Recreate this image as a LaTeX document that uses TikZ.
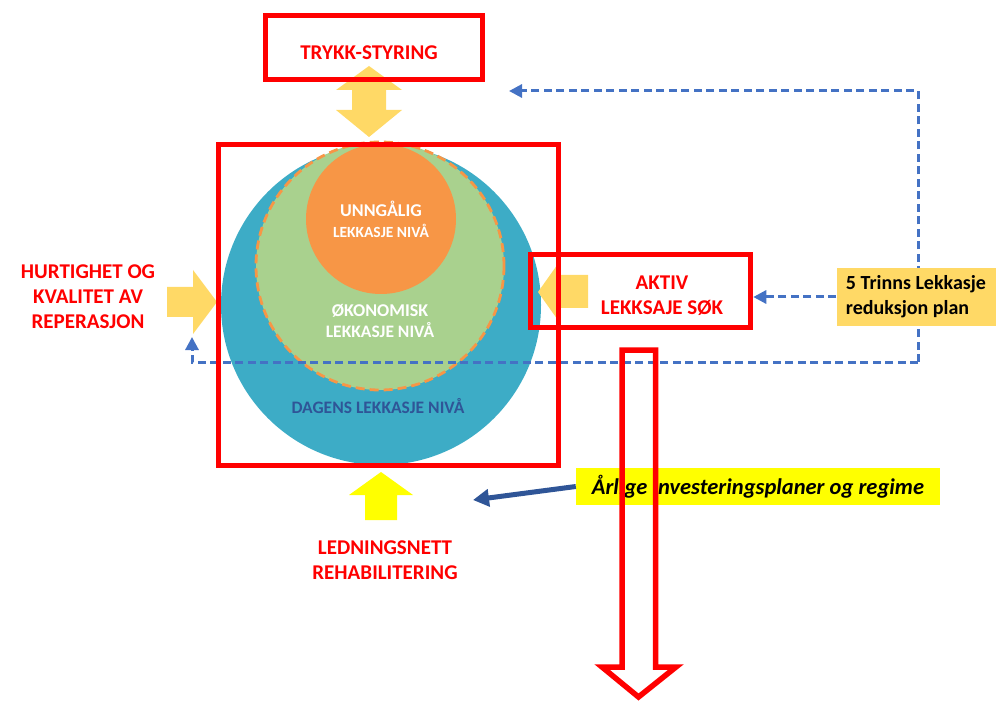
\documentclass[tikz,border=0pt]{standalone}
\usepackage{fontspec}
\setmainfont{Carlito}
\usetikzlibrary{arrows.meta}

\definecolor{lred}{HTML}{FF0000}
\definecolor{lblue}{HTML}{3DACC6}
\definecolor{lgreen}{HTML}{A9D18E}
\definecolor{lorange}{HTML}{F79646}
\definecolor{lgold}{HTML}{FFD966}
\definecolor{lyellow}{HTML}{FFFF00}
\definecolor{ldash}{HTML}{4472C4}
\definecolor{lnavy}{HTML}{2F5597}

\tikzset{
  redbox/.style={draw=lred, line width=5.5pt, inner sep=0pt},
  redtext/.style={text=lred, font=\fontsize{21}{25}\selectfont\bfseries, align=center},
  circtext/.style={text=white, font=\fontsize{18}{21}\selectfont\bfseries, align=center},
  level/.style={circle, inner sep=0pt},
  plandash/.style={draw=ldash, line width=3pt, dash pattern=on 8pt off 4.5pt,
    -{Triangle[length=13pt,width=13pt]}},
}

\begin{document}
\begin{tikzpicture}[x=1pt, y=-1pt]
  \useasboundingbox (0,0) rectangle (996,703);

  % levels
  \node[level, fill=lblue, minimum size=320pt] (dagens) at (381,305) {};
  \node[level, fill=lgreen, draw=lorange, line width=2.8pt,
        dash pattern=on 9pt off 5pt, minimum size=248pt] (okonom) at (380,266) {};
  \node[level, fill=lorange, minimum size=150pt, circtext] (unng) at (381,219)
    {UNNGÅLIG\\{\fontsize{15.5}{21}\selectfont LEKKASJE NIVÅ}};
  \node[circtext] (okotxt) at (380,321)
    {ØKONOMISK\\{\fontsize{17.5}{21}\selectfont LEKKASJE NIVÅ}};
  \node[text=lnavy, font=\fontsize{17.5}{20}\selectfont\bfseries] (dagtxt) at (378,406)
    {DAGENS LEKKASJE NIVÅ};

  % block arrows
  \fill[lgold] (369,66) -- (402,90) -- (386,90) -- (386,110) -- (402,110) -- (369,137)
    -- (336,110) -- (352,110) -- (352,90) -- (336,90) -- cycle;
  \fill[lgold] (167,287) -- (193,287) -- (193,270) -- (217,302) -- (193,334)
    -- (193,317) -- (167,317) -- cycle;
  \fill[lgold] (588,275) -- (560,275) -- (560,261) -- (538,292) -- (560,323)
    -- (560,308) -- (588,308) -- cycle;
  \fill[lyellow] (381,472) -- (413,495) -- (397,495) -- (397,520) -- (365,520)
    -- (365,495) -- (349,495) -- cycle;

  % plan loop
  \coordinate (tR) at (918,91);
  \coordinate (bR) at (918,362);
  \coordinate (tT) at (509,91);
  \coordinate (bL) at (192,362);
  \coordinate (tL) at (192,337);
  \draw[plandash] (bR) -- (tR) -- (tT);
  \draw[plandash] (bR) -- (bL) -- (tL);

  \node[fill=lgold, align=left, minimum width=159pt, inner sep=0pt,
        minimum height=58pt, font=\fontsize{20}{25}\selectfont\bfseries] (trinn) at (916,297)
    {5 Trinns Lekkasje\\reduksjon plan};
  \node[fill=lyellow, minimum width=364pt, minimum height=37pt, inner sep=0pt,
        font=\fontsize{22.5}{25}\selectfont\bfseries\itshape] (aarlig) at (758,486.5)
    {Årlige investeringsplaner og regime};
  \coordinate (tA) at (473,500);
  \draw[lnavy, line width=5pt, -{Triangle[length=16pt,width=17pt]}] (aarlig.west) -- (tA);

  % red frames
  \node[redbox, minimum width=340pt, minimum height=321pt] (frame) at (388.5,305) {};
  \node[redbox, minimum width=217pt, minimum height=64pt] (trykk) at (374,47.5) {};
  \node[redbox, minimum width=220pt, minimum height=73pt] (aktiv) at (640.5,291) {};
  \draw[plandash] (trinn.west) -- (trinn.west -| aktiv.east);

  \node[redtext] (trykktxt) at (369,53) {TRYKK-STYRING};
  \node[redtext] (aktivtxt) at (662,296) {AKTIV\\LEKKSAJE SØK};
  \node[redtext] (hurtig) at (88,297) {HURTIGHET OG\\KVALITET AV\\REPERASJON};
  \node[redtext] (ledning) at (385,560) {LEDNINGSNETT\\REHABILITERING};

  % down arrow
  \draw[lred, line width=5.5pt] (622,350) -- (655.5,350) -- (655.5,667) -- (676,667)
    -- (638.5,697) -- (602,667) -- (622,667) -- cycle;
\end{tikzpicture}
\end{document}
